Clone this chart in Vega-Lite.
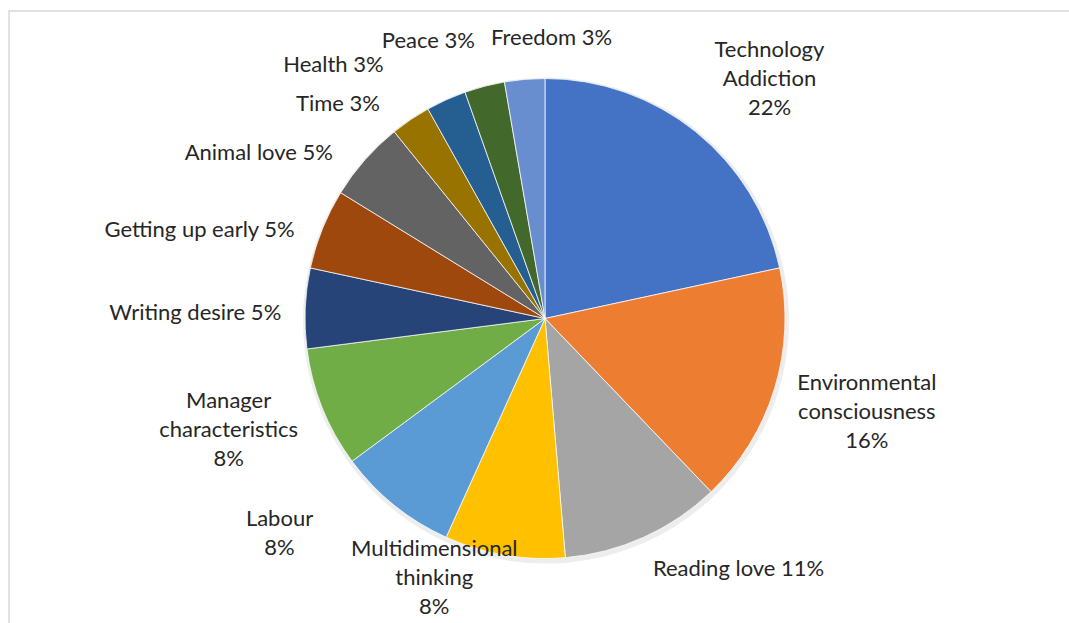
{
  "$schema": "https://vega.github.io/schema/vega-lite/v6.json",
  "autosize": "none",
  "padding": {"left": 9, "top": 11, "right": 0, "bottom": 0},
  "width": 1062,
  "height": 613,
  "background": "white",
  "view": {"stroke": "#d9d9d9", "strokeWidth": 1.5},
  "data": {
    "values": [
      {"idx": 1, "cat": "Technology Addiction", "label": "Technology\nAddiction\n22%", "count": 8},
      {"idx": 2, "cat": "Environmental consciousness", "label": "Environmental\nconsciousness\n16%", "count": 6},
      {"idx": 3, "cat": "Reading love", "label": "Reading love 11%", "count": 4},
      {"idx": 4, "cat": "Multidimensional thinking", "label": "Multidimensional\nthinking\n8%", "count": 3},
      {"idx": 5, "cat": "Labour", "label": "Labour\n8%", "count": 3},
      {"idx": 6, "cat": "Manager characteristics", "label": "Manager\ncharacteristics\n8%", "count": 3},
      {"idx": 7, "cat": "Writing desire", "label": "Writing desire 5%", "count": 2},
      {"idx": 8, "cat": "Getting up early", "label": "Getting up early 5%", "count": 2},
      {"idx": 9, "cat": "Animal love", "label": "Animal love 5%", "count": 2},
      {"idx": 10, "cat": "Time", "label": "Time 3%", "count": 1},
      {"idx": 11, "cat": "Health", "label": "Health 3%", "count": 1},
      {"idx": 12, "cat": "Peace", "label": "Peace 3%", "count": 1},
      {"idx": 13, "cat": "Freedom", "label": "Freedom 3%", "count": 1}
    ]
  },
  "encoding": {
    "theta": {"field": "count", "type": "quantitative", "stack": true},
    "order": {"field": "idx", "type": "quantitative"}
  },
  "layer": [
    {
      "mark": {"type": "arc", "radius": 243, "color": "#000000", "opacity": 0.07, "xOffset": 6, "yOffset": 3}
    },
    {
      "mark": {"type": "arc", "radius": 240, "stroke": "white", "strokeWidth": 0.75, "xOffset": 5, "yOffset": 1},
      "encoding": {
        "color": {
          "field": "cat",
          "type": "nominal",
          "legend": null,
          "sort": null,
          "scale": {
            "domain": ["Technology Addiction", "Environmental consciousness", "Reading love", "Multidimensional thinking", "Labour", "Manager characteristics", "Writing desire", "Getting up early", "Animal love", "Time", "Health", "Peace", "Freedom"],
            "range": ["#4472C4", "#ED7D31", "#A5A5A5", "#FFC000", "#5B9BD5", "#70AD47", "#264478", "#9E480E", "#636363", "#997300", "#255E91", "#43682B", "#698ED0"]
          }
        }
      }
    },
    {"mark": {"type": "text", "radius": 300, "dx": 36, "dy": -35, "xOffset": 5, "yOffset": 1, "font": "Lato", "fontSize": 22, "lineBreak": "\n", "lineHeight": 29, "align": "center", "baseline": "middle", "color": "#262626"},
     "encoding": {"text": {"condition": {"test": "datum.cat === 'Technology Addiction'", "field": "label"}, "value": ""}}},
    {"mark": {"type": "text", "radius": 300, "dx": 35, "dy": -23, "xOffset": 5, "yOffset": 1, "font": "Lato", "fontSize": 22, "lineBreak": "\n", "lineHeight": 29, "align": "center", "baseline": "middle", "color": "#262626"},
     "encoding": {"text": {"condition": {"test": "datum.cat === 'Environmental consciousness'", "field": "label"}, "value": ""}}},
    {"mark": {"type": "text", "radius": 300, "dx": 70, "dy": -23, "xOffset": 5, "yOffset": 1, "font": "Lato", "fontSize": 22, "lineBreak": "\n", "lineHeight": 29, "align": "center", "baseline": "middle", "color": "#262626"},
     "encoding": {"text": {"condition": {"test": "datum.cat === 'Reading love'", "field": "label"}, "value": ""}}},
    {"mark": {"type": "text", "radius": 300, "dx": -60, "dy": -65, "xOffset": 5, "yOffset": 1, "font": "Lato", "fontSize": 22, "lineBreak": "\n", "lineHeight": 29, "align": "center", "baseline": "middle", "color": "#262626"},
     "encoding": {"text": {"condition": {"test": "datum.cat === 'Multidimensional thinking'", "field": "label"}, "value": ""}}},
    {"mark": {"type": "text", "radius": 300, "dx": -77, "dy": -33, "xOffset": 5, "yOffset": 1, "font": "Lato", "fontSize": 22, "lineBreak": "\n", "lineHeight": 29, "align": "center", "baseline": "middle", "color": "#262626"},
     "encoding": {"text": {"condition": {"test": "datum.cat === 'Labour'", "field": "label"}, "value": ""}}},
    {"mark": {"type": "text", "radius": 300, "dx": -38, "dy": -29, "xOffset": 5, "yOffset": 1, "font": "Lato", "fontSize": 22, "lineBreak": "\n", "lineHeight": 29, "align": "center", "baseline": "middle", "color": "#262626"},
     "encoding": {"text": {"condition": {"test": "datum.cat === 'Manager characteristics'", "field": "label"}, "value": ""}}},
    {"mark": {"type": "text", "radius": 300, "dx": -50, "dy": 7, "xOffset": 5, "yOffset": 1, "font": "Lato", "fontSize": 22, "lineBreak": "\n", "lineHeight": 29, "align": "center", "baseline": "middle", "color": "#262626"},
     "encoding": {"text": {"condition": {"test": "datum.cat === 'Writing desire'", "field": "label"}, "value": ""}}},
    {"mark": {"type": "text", "radius": 300, "dx": -67, "dy": 23, "xOffset": 5, "yOffset": 1, "font": "Lato", "fontSize": 22, "lineBreak": "\n", "lineHeight": 29, "align": "center", "baseline": "middle", "color": "#262626"},
     "encoding": {"text": {"condition": {"test": "datum.cat === 'Getting up early'", "field": "label"}, "value": ""}}},
    {"mark": {"type": "text", "radius": 300, "dx": -61, "dy": 33, "xOffset": 5, "yOffset": 1, "font": "Lato", "fontSize": 22, "lineBreak": "\n", "lineHeight": 29, "align": "center", "baseline": "middle", "color": "#262626"},
     "encoding": {"text": {"condition": {"test": "datum.cat === 'Animal love'", "field": "label"}, "value": ""}}},
    {"mark": {"type": "text", "radius": 300, "dx": -39, "dy": 34, "xOffset": 5, "yOffset": 1, "font": "Lato", "fontSize": 22, "lineBreak": "\n", "lineHeight": 29, "align": "center", "baseline": "middle", "color": "#262626"},
     "encoding": {"text": {"condition": {"test": "datum.cat === 'Time'", "field": "label"}, "value": ""}}},
    {"mark": {"type": "text", "radius": 300, "dx": -88, "dy": 20, "xOffset": 5, "yOffset": 1, "font": "Lato", "fontSize": 22, "lineBreak": "\n", "lineHeight": 29, "align": "center", "baseline": "middle", "color": "#262626"},
     "encoding": {"text": {"condition": {"test": "datum.cat === 'Health'", "field": "label"}, "value": ""}}},
    {"mark": {"type": "text", "radius": 300, "dx": -41, "dy": 13, "xOffset": 5, "yOffset": 1, "font": "Lato", "fontSize": 22, "lineBreak": "\n", "lineHeight": 29, "align": "center", "baseline": "middle", "color": "#262626"},
     "encoding": {"text": {"condition": {"test": "datum.cat === 'Peace'", "field": "label"}, "value": ""}}},
    {"mark": {"type": "text", "radius": 300, "dx": 32, "dy": 18, "xOffset": 5, "yOffset": 1, "font": "Lato", "fontSize": 22, "lineBreak": "\n", "lineHeight": 29, "align": "center", "baseline": "middle", "color": "#262626"},
     "encoding": {"text": {"condition": {"test": "datum.cat === 'Freedom'", "field": "label"}, "value": ""}}}
  ]
}
